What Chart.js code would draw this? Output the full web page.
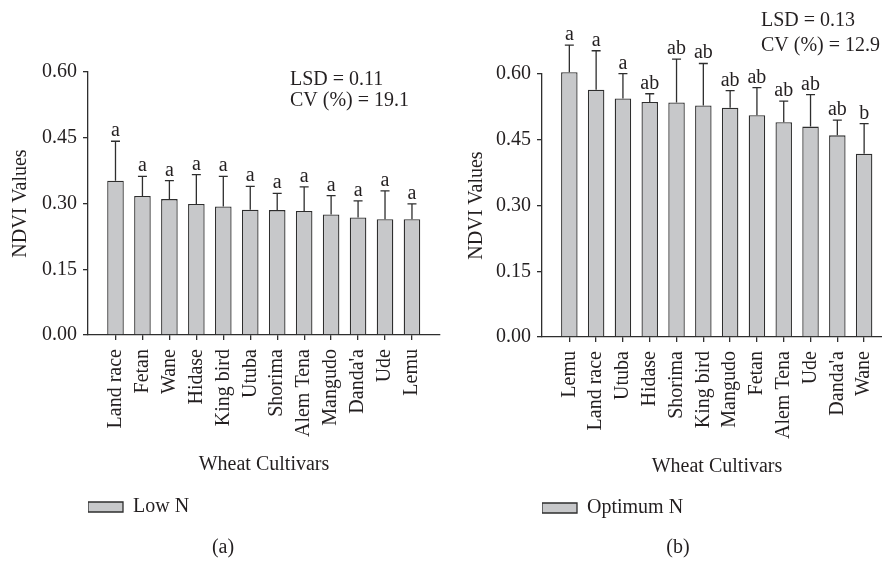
<!DOCTYPE html>
<html>
<head>
<meta charset="utf-8">
<script src="https://cdn.jsdelivr.net/npm/chart.js@4.4.1/dist/chart.umd.min.js"></script>
<style>
  html, body { margin: 0; padding: 0; background: #fff; overflow: hidden; width: 882px; height: 561px; }
  #wrap { position: relative; width: 882px; height: 561px; overflow: hidden; }
  canvas { position: absolute; top: 0; }
  #chartLow { left: 0; }
  #chartOpt { left: 441px; }
  .panel { position: absolute; top: 534px; width: 60px; margin-left: -30px; text-align: center;
           font: 20px 'Liberation Serif', 'DejaVu Serif', serif; line-height: 24px; color: #231f20; }
</style>
</head>
<body>
<div id="wrap">
  <canvas id="chartLow" width="450" height="561"></canvas>
  <canvas id="chartOpt" width="460" height="561"></canvas>
  <div class="panel" style="left:223px">(a)</div>
  <div class="panel" style="left:678px">(b)</div>
</div>
<script>
// NDVI means, standard errors and mean-separation letters per cultivar
const lowCultivars = ['Land race', 'Fetan', 'Wane', 'Hidase', 'King bird', 'Utuba', 'Shorima', 'Alem Tena', 'Mangudo', "Danda'a", 'Ude', 'Lemu'];
const lowMeans   = [0.352, 0.317, 0.310, 0.299, 0.293, 0.286, 0.285, 0.283, 0.275, 0.268, 0.264, 0.264];
const lowErrors  = [0.090, 0.045, 0.042, 0.067, 0.069, 0.053, 0.038, 0.055, 0.043, 0.038, 0.065, 0.035];
const lowLetters = ['a', 'a', 'a', 'a', 'a', 'a', 'a', 'a', 'a', 'a', 'a', 'a'];
const lowStats   = ['LSD = 0.11', 'CV (%) = 19.1'];

const optCultivars = ['Lemu', 'Land race', 'Utuba', 'Hidase', 'Shorima', 'King bird', 'Mangudo', 'Fetan', 'Alem Tena', 'Ude', "Danda'a", 'Wane'];
const optMeans   = [0.604, 0.564, 0.544, 0.536, 0.535, 0.528, 0.523, 0.506, 0.490, 0.480, 0.460, 0.418];
const optErrors  = [0.062, 0.089, 0.057, 0.019, 0.099, 0.096, 0.039, 0.063, 0.048, 0.073, 0.035, 0.069];
const optLetters = ['a', 'a', 'a', 'ab', 'ab', 'ab', 'ab', 'ab', 'ab', 'ab', 'ab', 'b'];
const optStats   = ['LSD = 0.13', 'CV (%) = 12.9'];

const yTicks = [0, 0.15, 0.30, 0.45, 0.60];

const FONT = "'Liberation Serif', 'DejaVu Serif', serif";
const TEXT = '#231f20';
const AXIS = '#2e2e2e';
const FILL = '#c7c8ca';

Chart.defaults.font.family = FONT;
Chart.defaults.font.size = 20;
Chart.defaults.color = TEXT;

// Upper error bars, significance letters and the LSD / CV note
const errorBarPlugin = {
  id: 'errorBars',
  afterDatasetsDraw(chart, args, opts) {
    const { ctx } = chart;
    const x = chart.scales.x, y = chart.scales.y;
    ctx.save();
    ctx.strokeStyle = AXIS;
    ctx.lineWidth = 1.3;
    ctx.fillStyle = TEXT;
    ctx.font = '20px ' + FONT;
    ctx.textAlign = 'center';
    ctx.textBaseline = 'alphabetic';
    opts.means.forEach((m, i) => {
      const px = x.getPixelForValue(i);
      const yb = y.getPixelForValue(m);
      const yt = y.getPixelForValue(m + opts.errors[i]);
      ctx.beginPath();
      ctx.moveTo(px, yb);
      ctx.lineTo(px, yt);
      ctx.moveTo(px - 4.5, yt);
      ctx.lineTo(px + 4.5, yt);
      ctx.stroke();
      ctx.fillText(opts.letters[i], px, yt - 5);
    });
    ctx.textAlign = 'left';
    opts.stats.forEach((line, k) => {
      ctx.fillText(line, opts.noteX, opts.noteY[k]);
    });
    ctx.restore();
  }
};

function makeChart(id, cfg) {
  const n = cfg.cultivars.length;
  return new Chart(document.getElementById(id), {
    type: 'bar',
    data: {
      datasets: [{
        label: cfg.label,
        data: cfg.means.map((v, i) => ({ x: i, y: v })),
        backgroundColor: FILL,
        borderColor: AXIS,
        borderWidth: 1.3,
        borderSkipped: 'start',
        categoryPercentage: 1,
        barPercentage: 0.615,
        clip: false
      }]
    },
    plugins: [errorBarPlugin],
    options: {
      responsive: false,
      animation: false,
      layout: { padding: cfg.padding },
      scales: {
        x: {
          type: 'linear',
          offset: false,
          min: -1.02,
          max: n - 1 + 1.04,
          afterBuildTicks: s => { s.ticks = cfg.cultivars.map((_, i) => ({ value: i })); },
          afterFit: s => { s.height = cfg.xHeight; },
          ticks: {
            autoSkip: false, minRotation: 90, maxRotation: 90, padding: 9,
            color: TEXT, font: { size: 20 },
            callback: v => cfg.cultivars[v]
          },
          grid: { offset: false, drawOnChartArea: false, drawTicks: true, tickLength: 5, color: AXIS, lineWidth: 1.3 },
          border: { display: true, color: AXIS, width: 1.3 },
          title: { display: true, text: 'Wheat Cultivars', color: TEXT, font: { size: 20 },
                   padding: { top: 0, bottom: cfg.xTitlePad } }
        },
        y: {
          min: 0,
          max: 0.6,
          afterBuildTicks: s => { s.ticks = yTicks.map(v => ({ value: v })); },
          afterFit: s => { s.width = cfg.yWidth; },
          ticks: { padding: 6, color: TEXT, font: { size: 20 }, callback: v => v.toFixed(2) },
          grid: { drawOnChartArea: false, drawTicks: true, tickLength: 5, color: AXIS, lineWidth: 1.3 },
          border: { display: true, color: AXIS, width: 1.3 },
          title: { display: true, text: 'NDVI Values', color: TEXT, font: { size: 20 },
                   padding: { top: cfg.yTitlePad, bottom: 0 } }
        }
      },
      plugins: {
        tooltip: { enabled: false },
        legend: {
          position: 'bottom',
          align: 'start',
          fullSize: false,
          labels: { boxWidth: 35, boxHeight: 10, padding: 0, color: TEXT, font: { size: 20 } }
        },
        errorBars: {
          means: cfg.means, errors: cfg.errors, letters: cfg.letters,
          stats: cfg.stats, noteX: cfg.noteX, noteY: cfg.noteY
        }
      }
    }
  });
}

makeChart('chartLow', {
  label: 'Low N',
  cultivars: lowCultivars, means: lowMeans, errors: lowErrors, letters: lowLetters, stats: lowStats,
  padding: { top: 72, left: 0, right: 10, bottom: 34 },
  xHeight: 162, xTitlePad: 20, yWidth: 88, yTitlePad: 9,
  noteX: 290, noteY: [85, 106]
});

makeChart('chartOpt', {
  label: 'Optimum N',
  cultivars: optCultivars, means: optMeans, errors: optErrors, letters: optLetters, stats: optStats,
  padding: { top: 74, left: 0, right: 9, bottom: 33 },
  xHeight: 161, xTitlePad: 19, yWidth: 101, yTitlePad: 24,
  noteX: 320, noteY: [26, 51]
});
</script>
</body>
</html>
